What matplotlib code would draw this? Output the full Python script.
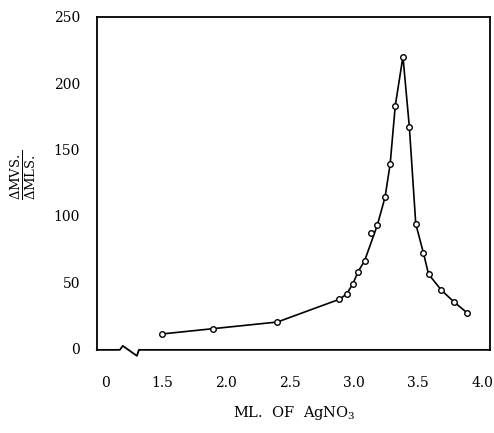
import matplotlib
matplotlib.use('Agg')
import matplotlib.pyplot as plt

# titration readings (ml AgNO3 vs dMV/dML)
ml = [1.50, 1.90, 2.40, 2.88, 2.94, 2.99, 3.03, 3.08, 3.18, 3.24, 3.28,
      3.32, 3.38, 3.43, 3.48, 3.54, 3.58, 3.68, 3.78, 3.88]
dmv = [11, 15, 20, 37, 41, 49, 58, 66, 93, 114, 139,
       183, 220, 167, 94, 72, 56, 44, 35, 27]
# stray reading that sits off the curve
stray_ml = [3.13]
stray_dmv = [87]

# broken x axis: the "0" label sits just past the break
x_tick_pos = [1.055, 1.5, 2.0, 2.5, 3.0, 3.5, 4.0]
x_tick_lab = ['0', '1.5', '2.0', '2.5', '3.0', '3.5', '4.0']
y_ticks = [0, 50, 100, 150, 200, 250]

plt.rcParams['font.family'] = 'DejaVu Serif'
plt.rcParams['mathtext.fontset'] = 'dejavuserif'

fig = plt.figure(figsize=(4.94, 4.33), dpi=100)
ax = fig.add_axes([0.196, 0.192, 0.796, 0.769])

ax.plot(ml, dmv, color='black', lw=1.2, marker='o', ms=4.0,
        mfc='white', mec='black', mew=1.0)
ax.plot(stray_ml, stray_dmv, ls='none', marker='o', ms=4.0,
        mfc='white', mec='black', mew=1.0)

ax.set_xlim(0.99, 4.06)
ax.set_ylim(-1, 250)
ax.set_xticks(x_tick_pos)
ax.set_xticklabels(x_tick_lab)
ax.set_yticks(y_ticks)
ax.tick_params(axis='both', length=0, labelsize=10)
ax.tick_params(axis='y', pad=12)
ax.tick_params(axis='x', pad=19)

for side in ['left', 'right', 'top']:
    ax.spines[side].set_linewidth(1.3)
ax.spines['bottom'].set_visible(False)
# bottom spine with the break zigzag
ax.plot([0, 0.0585, 0.066, 0.102, 0.107, 1.0],
        [0, 0, 0.012, -0.018, 0, 0],
        transform=ax.transAxes, color='black', lw=1.3, clip_on=False)

fig.text(0.047, 0.597, r'$\frac{\Delta\mathrm{MVS.}}{\Delta\mathrm{MLS.}}$',
         rotation=90, ha='center', va='center', fontsize=13.5)
fig.text(0.595, 0.047, r'ML.  OF  AgNO$_3$', ha='center', va='center',
         fontsize=10.5)

fig.savefig('out.png', dpi=100)
